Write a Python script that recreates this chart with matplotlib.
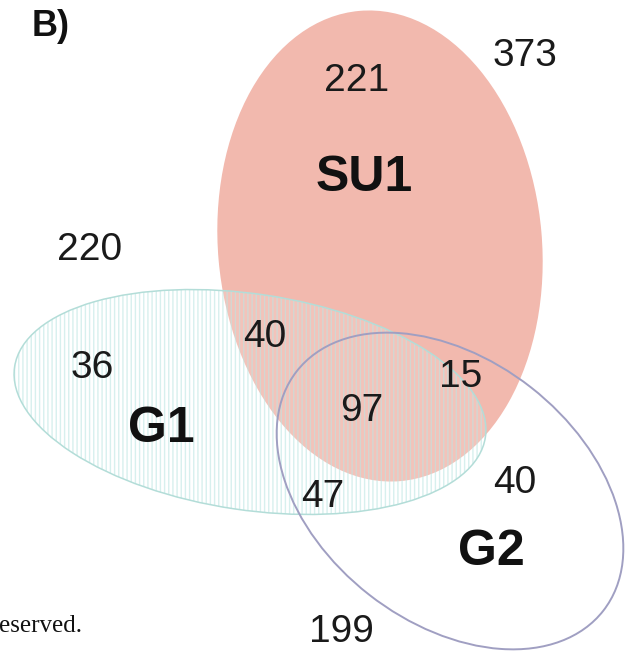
import matplotlib.pyplot as plt
from matplotlib.patches import Ellipse

plt.rcParams['hatch.linewidth'] = 1.0

# region counts of the Venn diagram
regions = ["SU1 only", "outside (top)", "outside (left)", "G1 only", "G1&SU1",
           "G1&SU1&G2", "SU1&G2", "G1&G2", "G2 only", "outside (bottom)"]
counts = [221, 373, 220, 36, 40, 97, 15, 47, 40, 199]
set_names = ["SU1", "G1", "G2"]

# where each count sits (pixel coords of the 630x653 canvas)
count_xy = [(357, 81), (525, 56), (90, 250), (92, 368), (265, 337),
            (362, 411), (461, 377), (323, 497), (515, 483), (341, 632)]
name_xy = [(364, 178), (161, 429), (491, 552)]

fig = plt.figure(figsize=(6.3, 6.53), dpi=100)
ax = fig.add_axes([0, 0, 1, 1])
ax.set_xlim(0, 630)
ax.set_ylim(653, 0)
ax.axis('off')

# SU1 - solid salmon
su1 = Ellipse((380, 246), 324, 472, angle=-5, facecolor='#f2b9ae',
              edgecolor='none', zorder=1)
ax.add_patch(su1)

# G1 - pale vertical hatching
g1_fill = Ellipse((250, 402), 476, 216, angle=8.5, facecolor=(1, 1, 1, 0.15),
                  edgecolor=(0.74, 0.9, 0.89, 0.6), hatch='||||', linewidth=0,
                  zorder=2)
ax.add_patch(g1_fill)
g1_edge = Ellipse((250, 402), 476, 216, angle=8.5, facecolor='none',
                  edgecolor='#b3ddd8', linewidth=1.1, zorder=3)
ax.add_patch(g1_edge)

# G2 - outline only
g2 = Ellipse((450, 491), 389, 263, angle=38, facecolor='none',
             edgecolor='#a09fc2', linewidth=1.4, zorder=3)
ax.add_patch(g2)

for n, (x, y) in zip(counts, count_xy):
    ax.text(x, y, str(n), fontsize=28, family='Liberation Sans',
            color='#1a1a1a', ha='center', va='center', zorder=5)

for name, (x, y) in zip(set_names, name_xy):
    ax.text(x, y, name, fontsize=36, family='Liberation Sans', weight='bold',
            color='#111111', ha='center', va='center', zorder=5)

ax.text(51, 26, "B)", fontsize=26, family='Liberation Sans', weight='bold',
        color='#111111', ha='center', va='center', zorder=5)
ax.text(-1, 632, "eserved.", fontsize=18, family='Liberation Serif',
        color='#111111', ha='left', va='baseline', zorder=5)

fig.savefig('out.png', dpi=100)
